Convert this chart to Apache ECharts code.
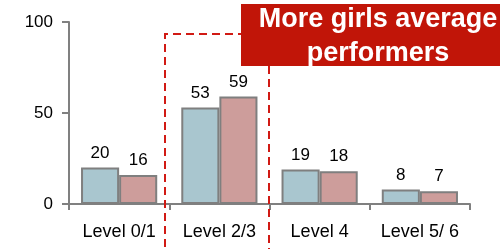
<!DOCTYPE html>
<html>
<head>
<meta charset="utf-8">
<script src="https://cdn.jsdelivr.net/npm/echarts@6/dist/echarts.min.js"></script>
<style>
  html, body { margin: 0; padding: 0; background: #fff; }
  #chart { width: 500px; height: 249px; }
</style>
</head>
<body>
<div id="chart"></div>
<script>
var categories = ['Level 0/1', 'Level 2/3', 'Level 4', 'Level 5/ 6'];
var boys = [20, 53, 19, 8];
var girls = [16, 59, 18, 7];
var yTicks = [0, 50, 100];

var chart = echarts.init(document.getElementById('chart'), null, { renderer: 'canvas' });

var font = 'Arial, "Liberation Sans", sans-serif';
var axisGray = '#808080';

var barLabel = {
  show: true,
  position: 'top',
  distance: 6,
  color: '#000',
  fontSize: 17,
  fontFamily: font
};

var option = {
  animation: false,
  grid: { left: 69, right: 30, top: 22, bottom: 45 },
  xAxis: {
    type: 'category',
    data: categories,
    axisLine: { lineStyle: { color: axisGray, width: 2 } },
    axisTick: { show: true, length: 6, lineStyle: { color: axisGray, width: 2 } },
    axisLabel: { color: '#000', fontSize: 18, fontFamily: font, margin: 19, interval: 0, hideOverlap: false }
  },
  yAxis: {
    type: 'value',
    min: yTicks[0],
    max: yTicks[yTicks.length - 1],
    interval: yTicks[1] - yTicks[0],
    axisLine: { show: true, lineStyle: { color: axisGray, width: 2 } },
    axisTick: { show: true, length: 7, lineStyle: { color: axisGray, width: 2 } },
    axisLabel: { color: '#000', fontSize: 17, fontFamily: font, margin: 16 },
    splitLine: { show: false }
  },
  series: [{
    name: 'Boys',
    type: 'bar',
    data: boys,
    barGap: '0%',
    barCategoryGap: '24%',
    itemStyle: { color: '#A9C6CF', borderColor: '#7f7f7f', borderWidth: 2 },
    label: barLabel
  }, {
    name: 'Girls',
    type: 'bar',
    data: girls,
    itemStyle: { color: '#CD9D9B', borderColor: '#7f7f7f', borderWidth: 2 },
    label: barLabel
  }],
  graphic: [{
    type: 'polyline',
    shape: { points: [[165, 260], [165, 34], [245, 34]] },
    style: { stroke: '#D11A14', lineWidth: 2, lineDash: [8, 5], fill: null },
    z: 10
  }, {
    type: 'line',
    shape: { x1: 269, y1: 66, x2: 269, y2: 260 },
    style: { stroke: '#D11A14', lineWidth: 2, lineDash: [8, 5] },
    z: 10
  }, {
    type: 'rect',
    shape: { x: 241, y: 4, width: 280, height: 62 },
    style: { fill: '#C11508' },
    z: 11
  }, {
    type: 'text',
    x: 378,
    y: 37,
    style: {
      text: 'More girls average\nperformers',
      fill: '#fff',
      font: 'bold 27px ' + font,
      lineHeight: 34,
      align: 'center',
      verticalAlign: 'middle'
    },
    z: 12
  }]
};

chart.setOption(option);
</script>
</body>
</html>
